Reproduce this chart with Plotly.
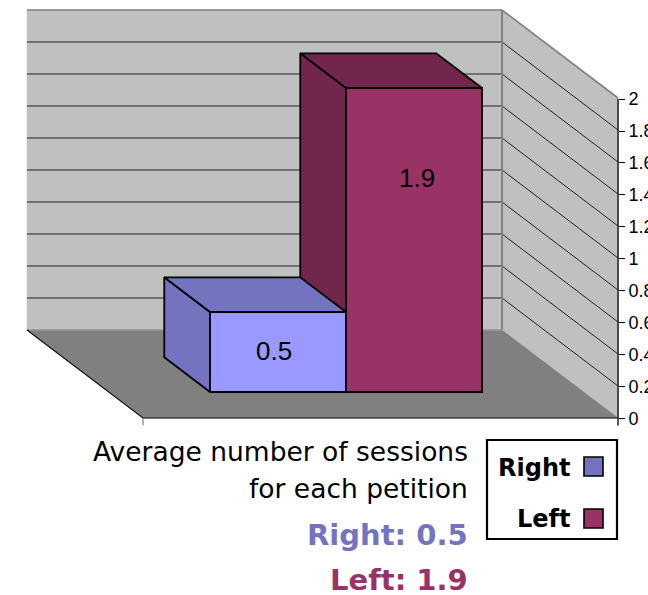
import plotly.graph_objects as go

W, H = 648, 595
categories = ["Right", "Left"]
values = [0.5, 1.9]
front_colors = ["#9999FF", "#993366"]
side_colors = ["#7373BF", "#73264D"]
tick_vals = [0, 0.2, 0.4, 0.6, 0.8, 1, 1.2, 1.4, 1.6, 1.8, 2]
tick_text = ["0", "0.2", "0.4", "0.6", "0.8", "1", "1.2", "1.4", "1.6", "1.8", "2"]
caption_lines = ["Average number of sessions", "for each petition"]

PXC, PXV = 136.0, 160.0      # pixels per category / per value unit
DX, DY = 116 / PXC, 88 / PXV  # shift from the front plane to the back wall
C_LEFT, C_RIGHT = -1.245, 2.248
D_FRONT, D_BACK = 0.2955, 0.69
WALL_TOP = 2
BAR_LINE = 1.8


def proj(c, v, d):
    return c - d * DX, v + d * DY


def poly(points, fill, line="black", width=BAR_LINE, axis="y"):
    xs = [p[0] for p in points]
    ys = [p[1] for p in points]
    return go.Scatter(x=xs, y=ys, mode="lines", fill="toself" if fill else None, fillcolor=fill,
                      line=dict(color=line, width=width), hoverinfo="skip", showlegend=False,
                      xaxis="x", yaxis=axis)


def seg(points, color, width=1.0, axis="y"):
    return poly(points, None, color, width, axis)


traces = []
# Walls and floor
traces.append(poly([proj(C_LEFT, 0, 1), proj(C_RIGHT, 0, 1), proj(C_RIGHT, WALL_TOP, 1), proj(C_LEFT, WALL_TOP, 1), proj(C_LEFT, 0, 1)],
                   "#C0C0C0", "#C0C0C0", 0.5))
traces.append(poly([proj(C_RIGHT, 0, 1), proj(C_RIGHT, 0, 0), proj(C_RIGHT, WALL_TOP, 0), proj(C_RIGHT, WALL_TOP, 1), proj(C_RIGHT, 0, 1)],
                   "#C0C0C0", "#C0C0C0", 0.5))
traces.append(poly([proj(C_LEFT, 0, 1), proj(C_RIGHT, 0, 1), proj(C_RIGHT, 0, 0), proj(C_LEFT, 0, 0), proj(C_LEFT, 0, 1)],
                   "#808080", "#808080", 0.5))
for v in tick_vals[1:-1]:
    traces.append(seg([proj(C_LEFT, v, 1), proj(C_RIGHT, v, 1), proj(C_RIGHT, v, 0)], "#222222", 1.0))
traces.append(seg([proj(C_LEFT, WALL_TOP, 1), proj(C_RIGHT, WALL_TOP, 1), proj(C_RIGHT, WALL_TOP, 0)], "#808080", 1.6))
traces.append(seg([proj(C_RIGHT, 0, 1), proj(C_RIGHT, WALL_TOP, 1)], "#808080", 2))
traces.append(seg([proj(C_LEFT, 0, 1), proj(C_RIGHT, 0, 1)], "#999999", 1.4))
traces.append(seg([proj(C_LEFT, 0, 1), proj(C_LEFT, 0, 0), proj(C_RIGHT, 0, 0)], "#111111", 1.2))
traces.append(seg([proj(C_LEFT, 0, 0), proj(C_LEFT, -0.045, 0)], "#808080", 1.2))

# Depth faces of the bars, back bar first
for i in reversed(range(len(categories))):
    l, r, v = i - 0.5, i + 0.5, values[i]
    traces.append(poly([proj(l, 0, D_FRONT), proj(l, v, D_FRONT), proj(l, v, D_BACK), proj(l, 0, D_BACK), proj(l, 0, D_FRONT)], side_colors[i]))
    traces.append(poly([proj(l, v, D_FRONT), proj(r, v, D_FRONT), proj(r, v, D_BACK), proj(l, v, D_BACK), proj(l, v, D_FRONT)], side_colors[i]))

for i, name in enumerate(categories):
    traces.append(go.Bar(x=[i], y=[values[i]], width=1, name=name, marker=dict(color=front_colors[i], line=dict(color="black", width=BAR_LINE)),
                         xaxis="x2", yaxis="y2", showlegend=False, hoverinfo="skip"))

# Value axis line, running from the top value to just under zero
traces.append(seg([(C_RIGHT, WALL_TOP), (C_RIGHT, -0.045)], "black", 1.3, axis="y3"))

fig = go.Figure(traces)


def tx(px):
    return px / W


def ty(py):
    return 1 - py / H


annotations = []


def label(px, py, text, size, color="black", bold=False, family="DejaVu Sans"):
    annotations.append(dict(x=tx(px), y=ty(py), xref="paper", yref="paper", text=f"<b>{text}</b>" if bold else text,
                            showarrow=False, xanchor="right", yanchor="middle",
                            font=dict(family=family, size=size, color=color)))


label(470, 451, caption_lines[0], 26.5)
label(470, 488, caption_lines[1], 26.5)
label(470, 535, f"{categories[0]}: {values[0]}", 29, side_colors[0], True)
label(470, 580, f"{categories[1]}: {values[1]}", 29, front_colors[1], True)
label(572, 468, categories[0], 24, bold=True)
label(572, 519, categories[1], 24, bold=True)

label_pos = [(-0.03, 0.255), (1.02, 1.3375)]
for i, (lx, ly) in enumerate(label_pos):
    annotations.append(dict(x=lx, y=ly, xref="x2", yref="y2", text=str(values[i]), showarrow=False,
                            font=dict(family="Liberation Sans", size=26, color="black")))

shapes = [dict(type="rect", xref="paper", yref="paper", x0=tx(487), x1=tx(617), y0=ty(440), y1=ty(539),
               line=dict(color="black", width=2.2), fillcolor="white")]
for (py0, py1), c in zip([(457, 476), (509, 528)], side_colors[:1] + front_colors[1:]):
    shapes.append(dict(type="rect", xref="paper", yref="paper", x0=tx(584), x1=tx(603), y0=ty(py0), y1=ty(py1),
                       line=dict(color="black", width=1.6), fillcolor=c))

hidden = dict(visible=False, fixedrange=True, showgrid=False, zeroline=False)
fig.update_layout(
    width=W, height=H, autosize=False, margin=dict(l=0, r=0, t=0, b=0), paper_bgcolor="white", plot_bgcolor="white",
    barmode="overlay", showlegend=False, annotations=annotations, shapes=shapes,
    xaxis=dict(domain=[0, 1], range=[-312.3 / PXC, (W - 312.3) / PXC], **hidden),
    yaxis=dict(domain=[0, 1], range=[(418 - H) / PXV, 418 / PXV], **hidden),
    xaxis2=dict(overlaying="x", range=[-278 / PXC, (W - 278) / PXC], **hidden),
    yaxis2=dict(overlaying="y", range=[(392 - H) / PXV, 392 / PXV], **hidden),
    yaxis3=dict(overlaying="y", anchor="free", position=618 / W, side="right", range=[(418.3 - H) / 159.6, 418.3 / 159.6],
                tickmode="array", tickvals=tick_vals, ticktext=tick_text, ticks="outside", ticklen=6, tickwidth=1.2,
                tickcolor="black", showline=False, showgrid=False, zeroline=False,
                tickfont=dict(family="Liberation Sans", size=18, color="black"), fixedrange=True, automargin=False),
)
fig.write_html("out.html", config=dict(displayModeBar=False), post_script="document.body.style.margin='0';")
